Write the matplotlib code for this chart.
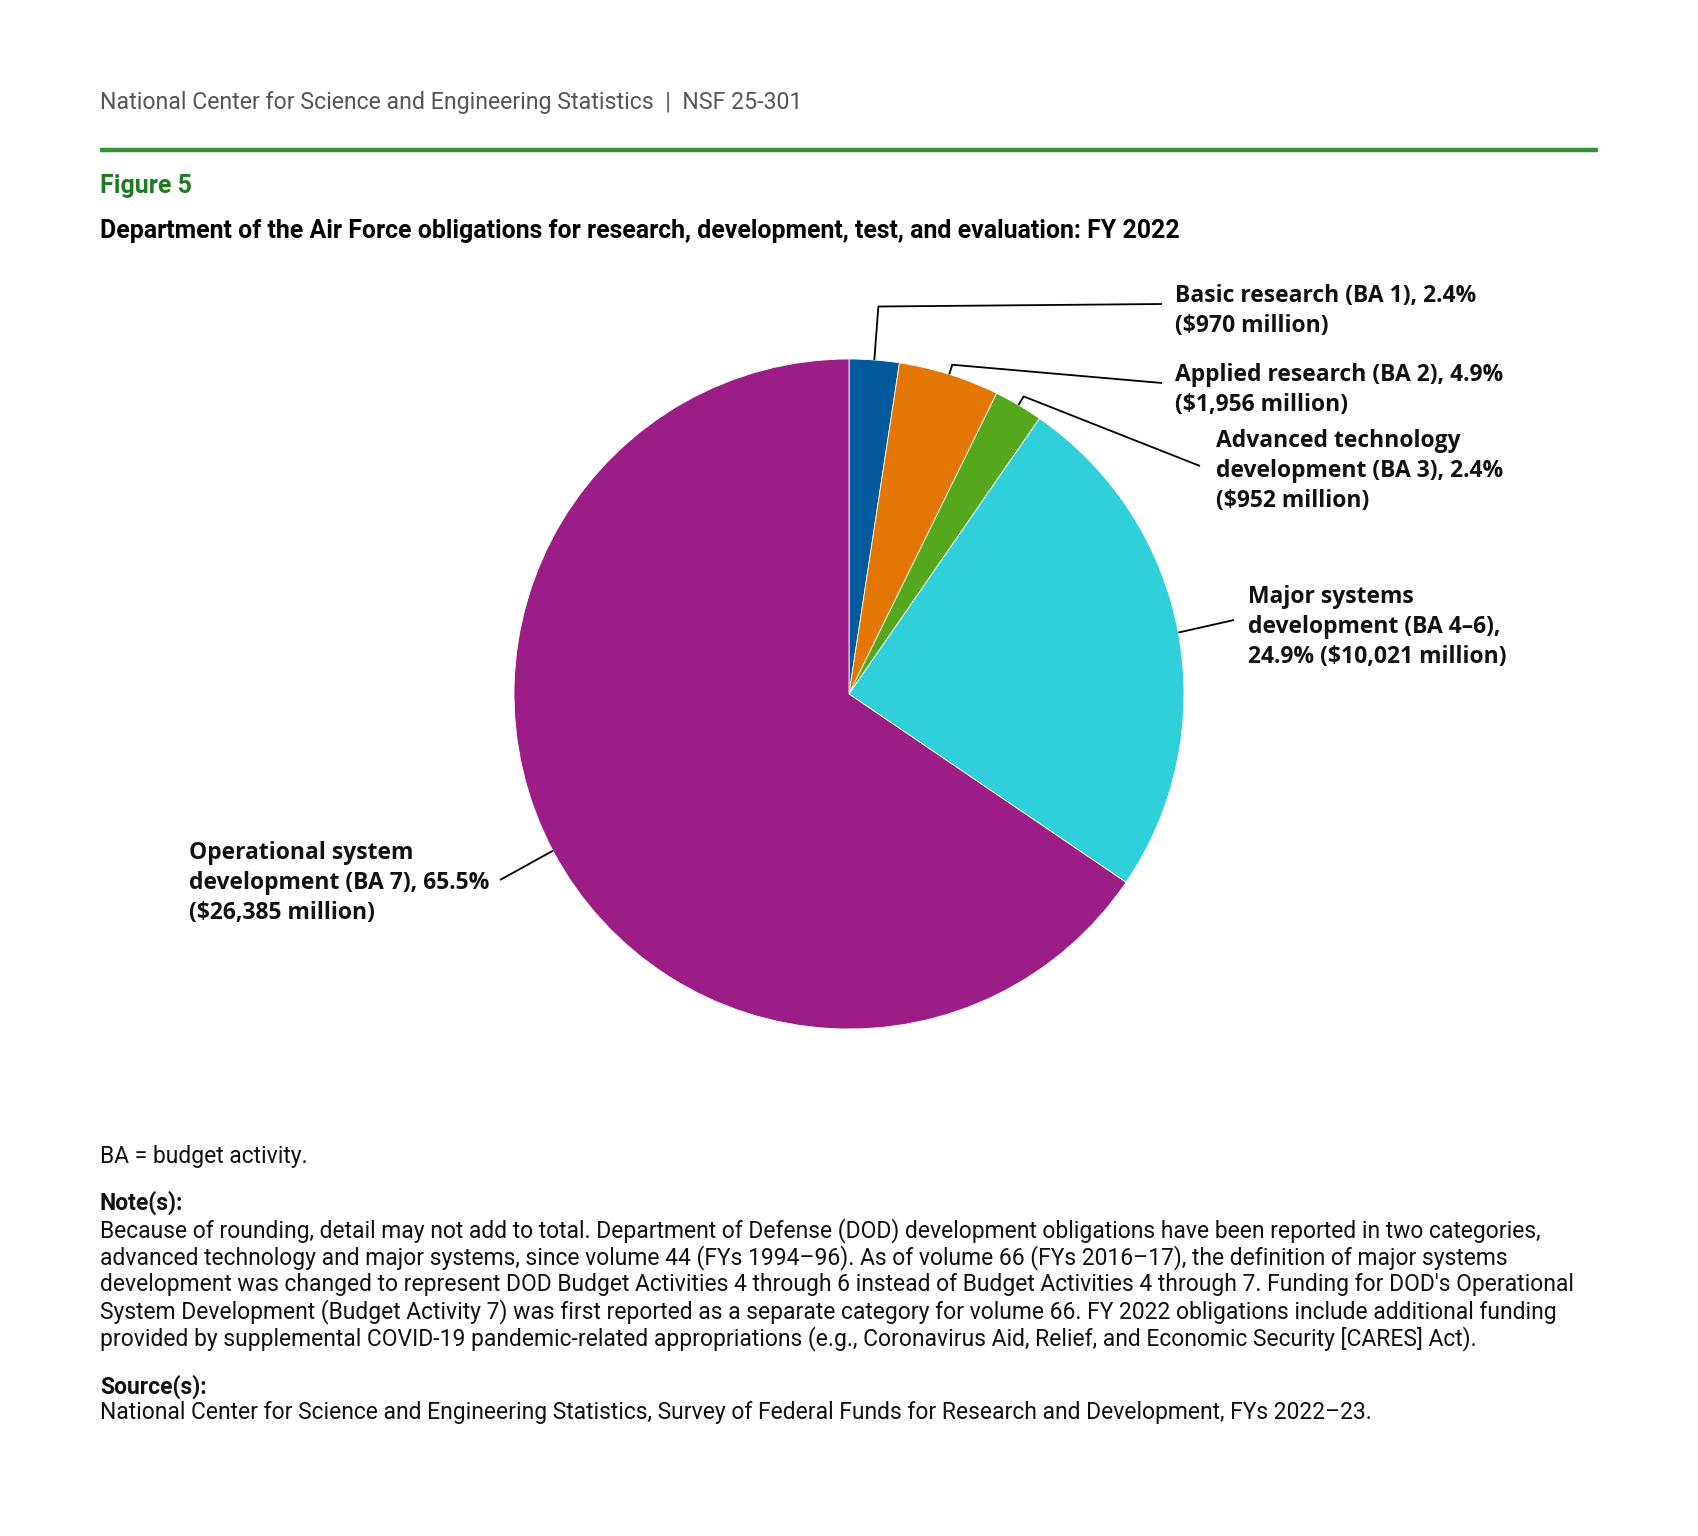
import matplotlib
matplotlib.use("Agg")
import matplotlib.pyplot as plt
import numpy as np

# data (millions of dollars, FY 2022)
categories = ["Basic research (BA 1)", "Applied research (BA 2)",
              "Advanced technology development (BA 3)",
              "Major systems development (BA 4–6)",
              "Operational system development (BA 7)"]
values = [970, 1956, 952, 10021, 26385]
percents = ["2.4%", "4.9%", "2.4%", "24.9%", "65.5%"]
colors = ["#005a9c", "#e47603", "#55a81e", "#2fd0da", "#9d1d86"]

label_texts = [
    "Basic research (BA 1), 2.4%\n($970 million)",
    "Applied research (BA 2), 4.9%\n($1,956 million)",
    "Advanced technology\ndevelopment (BA 3), 2.4%\n($952 million)",
    "Major systems\ndevelopment (BA 4–6),\n24.9% ($10,021 million)",
    "Operational system\ndevelopment (BA 7), 65.5%\n($26,385 million)",
]

W, H = 1699, 1536
fig = plt.figure(figsize=(W / 100, H / 100), dpi=100)
ax = fig.add_axes([0, 0, 1, 1])


def Y(y):
    return H - y


cx, cy, r = 849, 694, 335
wedges, _ = ax.pie(values, colors=colors, startangle=90, counterclock=False,
                   center=(cx, Y(cy)), radius=r,
                   wedgeprops=dict(edgecolor="white", linewidth=0.6))
ax.set_xlim(0, W)
ax.set_ylim(0, H)
ax.set_aspect("auto")
ax.axis("off")

# leader lines: (elbow radius factor, end point in px), label pos (left x, top y)
leaders = [
    (1.16, (1162, 304), (1175, 284)),
    (1.03, (1162, 383), (1175, 363)),
    (1.03, (1200, 466), (1216, 429)),
    (1.0, (1234, 620), (1248, 585)),
    (1.0, (500, 880), (189, 841)),
]
lab_font = dict(family="Open Sans", fontweight="bold", fontsize=16.5,
                color="#111111", linespacing=1.32)
for w, (ef, end, pos) in zip(wedges, leaders):
    mid = np.deg2rad((w.theta1 + w.theta2) / 2)
    p0 = (cx + r * np.cos(mid), Y(cy) + r * np.sin(mid))
    p1 = (cx + r * ef * np.cos(mid), Y(cy) + r * ef * np.sin(mid))
    ax.plot([p0[0], p1[0], end[0]], [p0[1], p1[1], Y(end[1])],
            color="black", lw=1.3, solid_capstyle="butt")
for txt, (ef, end, pos) in zip(label_texts, leaders):
    ax.text(pos[0], Y(pos[1]), txt, ha="left", va="top", **lab_font)

# header
fig.text(100 / W, 1 - 102 / H, "National Center for Science and Engineering Statistics  |  NSF 25-301",
         family="Roboto", fontsize=16.7, color="#555555", va="center", ha="left")
ax.plot([100, 1598], [Y(150), Y(150)], color="#388e3c", lw=3.2, solid_capstyle="butt")
fig.text(100 / W, 1 - 186 / H, "Figure 5", family="Roboto", fontweight="bold",
         fontsize=18, color="#1e7b22", va="center", ha="left")
fig.text(100 / W, 1 - 231 / H,
         "Department of the Air Force obligations for research, development, test, and evaluation: FY 2022",
         family="Roboto", fontweight="bold", fontsize=17.9, color="black", va="center", ha="left")

# notes
note_font = dict(family="Roboto", fontsize=16.5, color="#111111", va="center", ha="left")
fig.text(100 / W, 1 - 1156 / H, "BA = budget activity.", **note_font)
fig.text(100 / W, 1 - 1203 / H, "Note(s):", fontweight="bold", **note_font)
note_lines = [
    "Because of rounding, detail may not add to total. Department of Defense (DOD) development obligations have been reported in two categories,",
    "advanced technology and major systems, since volume 44 (FYs 1994–96). As of volume 66 (FYs 2016–17), the definition of major systems",
    "development was changed to represent DOD Budget Activities 4 through 6 instead of Budget Activities 4 through 7. Funding for DOD's Operational",
    "System Development (Budget Activity 7) was first reported as a separate category for volume 66. FY 2022 obligations include additional funding",
    "provided by supplemental COVID-19 pandemic-related appropriations (e.g., Coronavirus Aid, Relief, and Economic Security [CARES] Act).",
]
for i, line in enumerate(note_lines):
    fig.text(100 / W, 1 - (1231 + 27 * i) / H, line, **note_font)
fig.text(100 / W, 1 - 1387 / H, "Source(s):", fontweight="bold", **note_font)
fig.text(100 / W, 1 - 1413 / H,
         "National Center for Science and Engineering Statistics, Survey of Federal Funds for Research and Development, FYs 2022–23.",
         **note_font)

fig.savefig("out.png", dpi=100, facecolor="white")
